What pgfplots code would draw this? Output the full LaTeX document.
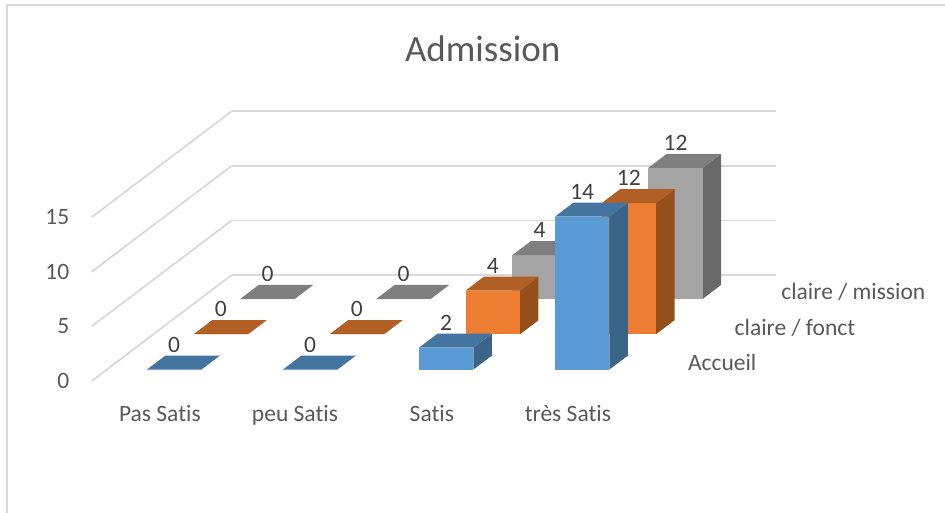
\documentclass[border=0pt]{standalone}
\usepackage{pgfplots}
\usepackage{pgfplotstable}
\usepackage{fontspec}
\setmainfont[RawFeature={-liga;-clig}]{Carlito}
\pgfplotsset{compat=1.18}
\definecolor{gridc}{HTML}{D9D9D9}
\definecolor{txt}{HTML}{595959}
\definecolor{lab}{HTML}{404040}
\definecolor{bF}{HTML}{5B9BD5}\definecolor{bT}{HTML}{4475A1}\definecolor{bS}{HTML}{3A6488}
\definecolor{oF}{HTML}{ED7D31}\definecolor{oT}{HTML}{B25F25}\definecolor{oS}{HTML}{95501C}
\definecolor{gF}{HTML}{A5A5A5}\definecolor{gT}{HTML}{7F7F7F}\definecolor{gS}{HTML}{696969}
\pgfplotstableread{
cat accueil fonct mission
0 0 0 0
1 0 0 0
2 2 4 4
3 14 12 12
}\chartdata
\newcommand\cuboid[4]{% cat, series index, column, colour prefix
  \pgfplotstablegetelem{#1}{#3}\of\chartdata
  \let\val\pgfplotsretval
  \pgfmathsetmacro\xa{#1+0.295}\pgfmathsetmacro\xb{#1+0.695}
  \pgfmathsetmacro\ya{#2+0.325}\pgfmathsetmacro\yb{#2+0.72}
  \addplot3[fill=#4S,draw=none] coordinates {(\xb,\ya,0) (\xb,\yb,0) (\xb,\yb,\val) (\xb,\ya,\val)};
  \addplot3[fill=#4F,draw=none] coordinates {(\xa,\ya,0) (\xb,\ya,0) (\xb,\ya,\val) (\xa,\ya,\val)};
  \addplot3[fill=#4T,draw=none] coordinates {(\xa,\ya,\val) (\xb,\ya,\val) (\xb,\yb,\val) (\xa,\yb,\val)};
}
\newcommand\series[3]{% series index, column, colour prefix
  \cuboid{0}{#1}{#2}{#3}\cuboid{1}{#1}{#2}{#3}\cuboid{2}{#1}{#2}{#3}\cuboid{3}{#1}{#2}{#3}
}
\newcommand\labels[2]{% series index, column
  \addplot3[draw=none,mark=none,point meta=z,nodes near coords,
    every node near coord/.append style={anchor=center,yshift=25pt,text=lab,
      font=\fontsize{23.5}{28}\selectfont,/pgf/number format/assume math mode=true}]
    table[x expr=\thisrow{cat}+0.495,y expr=#1+0.325,z=#2] {\chartdata};
}
\begin{document}
\begin{tikzpicture}
\path[use as bounding box] (0,0) rectangle (945pt,513pt);
\draw[gridc,line width=1.6pt] (6.7pt,0pt) -- (6.7pt,508pt) -- (945pt,508pt);
\begin{axis}[
  at={(91.7pt,132pt)},anchor=origin,
  x={(136pt,0pt)},y={(46.67pt,35.33pt)},z={(0pt,10.92pt)},
  xmin=0,xmax=4,ymin=0,ymax=3,zmin=0,zmax=15,
  clip=false,
  axis line style={draw=none},
  tick style={draw=none},
  xtick={0.5,1.5,2.5,3.5},
  xticklabels={Pas Satis,peu Satis,Satis,très Satis},
  ytick={0.5,1.5,2.5},
  yticklabels={Accueil,claire / fonct,claire / mission},
  ztick={0,5,10,15},
  zmajorgrids=true,
  grid style={gridc,line width=1.8pt},
  /pgf/number format/assume math mode=true,
  tick label style={font=\fontsize{23.5}{28}\selectfont,text=txt},
  xticklabel style={xshift=6pt,yshift=-21pt},
  yticklabel style={anchor=west,xshift=25.5pt,yshift=0.5pt},
  zticklabel style={anchor=east,xshift=-19pt},
  title={Admission},
  title style={font=\fontsize{37}{44}\selectfont,text=txt,xshift=49pt,yshift=40pt},
]
\series{2}{mission}{g}
\series{1}{fonct}{o}
\series{0}{accueil}{b}
\labels{2}{mission}
\labels{1}{fonct}
\labels{0}{accueil}
\end{axis}
\end{tikzpicture}
\end{document}
